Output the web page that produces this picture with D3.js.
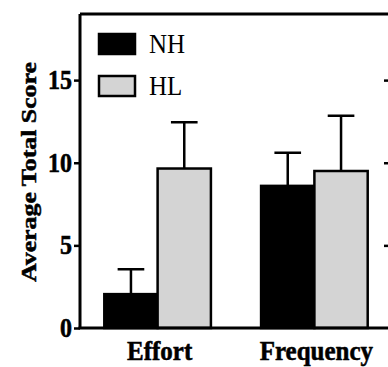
<!DOCTYPE html>
<html>
<head>
<meta charset="utf-8">
<script src="https://cdn.jsdelivr.net/npm/d3@7"></script>
<style>
  body { margin: 0; background: #fff; }
  svg { display: block; }
  text { font-family: "Liberation Serif", "Times New Roman", serif; }
</style>
</head>
<body>
<svg id="chart" width="388" height="367"></svg>
<script>
const categories = ['Effort', 'Frequency'];
const series = ['NH', 'HL'];
const means = {
  NH: [2.05, 8.6],
  HL: [9.65, 9.5]
};
const errorTops = {
  NH: [3.55, 10.6],
  HL: [12.45, 12.85]
};
const yTicks = [0, 5, 10, 15];

const colors = { NH: '#000000', HL: '#d4d4d4' };

const svg = d3.select('#chart');
const plotLeft = 80, plotRight = 392, plotTop = 14, plotBottom = 328;
const stretch = 1.12; // the scan is a bit taller than it is wide

const y = d3.scaleLinear().domain([0, 19]).range([plotBottom, plotTop]);

const x0 = d3.scaleBand()
  .domain(categories)
  .range([plotLeft, plotRight])
  .paddingInner(0.32)
  .paddingOuter(0.155);

const x1 = d3.scaleBand()
  .domain(series)
  .range([0, x0.bandwidth()]);

// frame (right side falls off the canvas like the original)
svg.append('line')
  .attr('x1', plotLeft).attr('x2', plotRight + 10)
  .attr('y1', plotTop).attr('y2', plotTop)
  .attr('stroke', '#000').attr('stroke-width', 3);

const rows = [];
categories.forEach((c, i) => {
  series.forEach(s => {
    rows.push({ cat: c, s: s, v: means[s][i], e: errorTops[s][i] });
  });
});

const g = svg.append('g');

// error bars first, bars drawn over them
g.selectAll('.err')
  .data(rows)
  .enter().append('path')
  .attr('class', 'err')
  .attr('d', d => {
    const cx = x0(d.cat) + x1(d.s) + x1.bandwidth() / 2;
    const cw = x1.bandwidth() * 0.25;
    return `M${cx},${y(d.v)}V${y(d.e)}M${cx - cw},${y(d.e)}H${cx + cw}`;
  })
  .attr('fill', 'none')
  .attr('stroke', '#000')
  .attr('stroke-width', 2.5);

g.selectAll('.bar')
  .data(rows)
  .enter().append('rect')
  .attr('class', 'bar')
  .attr('x', d => x0(d.cat) + x1(d.s))
  .attr('y', d => y(d.v))
  .attr('width', x1.bandwidth())
  .attr('height', d => y(0) - y(d.v))
  .attr('fill', d => colors[d.s])
  .attr('stroke', '#000')
  .attr('stroke-width', 2.5);

// left axis
const yAxis = svg.append('g')
  .attr('transform', `translate(${plotLeft},0)`)
  .call(d3.axisLeft(y).tickValues(yTicks).tickSize(6).tickPadding(2).tickSizeOuter(0));
yAxis.select('.domain').attr('stroke-width', 3).attr('d', `M0,${plotTop}V${plotBottom}`);
yAxis.selectAll('.tick line').attr('stroke-width', 2.5);
yAxis.selectAll('.tick text')
  .attr('font-size', 24)
  .attr('font-weight', 'bold')
  .attr('fill', '#000')
  .attr('stroke', '#000')
  .attr('stroke-width', 0.5)
  .attr('transform', `scale(1,${stretch})`)
  .style('font-family', '"Liberation Serif", serif');

// right axis ticks pointing in
const rAxis = svg.append('g')
  .attr('transform', `translate(${plotRight},0)`)
  .call(d3.axisLeft(y).tickValues(yTicks.filter(t => t > 0)).tickSize(8).tickFormat('').tickSizeOuter(0));
rAxis.select('.domain').attr('stroke-width', 3);
rAxis.selectAll('.tick line').attr('stroke-width', 2.5);

// baseline
svg.append('line')
  .attr('x1', plotLeft - 1.5).attr('x2', plotRight + 10)
  .attr('y1', y(0)).attr('y2', y(0))
  .attr('stroke', '#000').attr('stroke-width', 3);

// category labels
svg.selectAll('.cat')
  .data(categories)
  .enter().append('text')
  .attr('transform', d => `translate(${x0(d) + x0.bandwidth() / 2 + 2},360) scale(1,${stretch})`)
  .attr('text-anchor', 'middle')
  .attr('font-size', 25)
  .attr('font-weight', 'bold')
  .attr('stroke', '#000')
  .attr('stroke-width', 0.5)
  .text(d => d);

// y title
svg.append('text')
  .attr('transform', 'translate(36,172) rotate(-90)')
  .attr('text-anchor', 'middle')
  .attr('font-size', 21)
  .attr('font-weight', 'bold')
  .attr('stroke', '#000')
  .attr('stroke-width', 0.5)
  .attr('textLength', 220)
  .attr('lengthAdjust', 'spacingAndGlyphs')
  .text('Average Total Score');

// legend
const leg = svg.append('g').selectAll('g')
  .data(series)
  .enter().append('g')
  .attr('transform', (d, i) => `translate(99,${34 + i * 42})`);
leg.append('rect')
  .attr('width', 36).attr('height', 20)
  .attr('fill', d => colors[d])
  .attr('stroke', '#000').attr('stroke-width', 2.5);
leg.append('text')
  .attr('transform', `translate(50,19) scale(1,${stretch})`)
  .attr('font-size', 25)
  .text(d => d);
</script>
</body>
</html>
